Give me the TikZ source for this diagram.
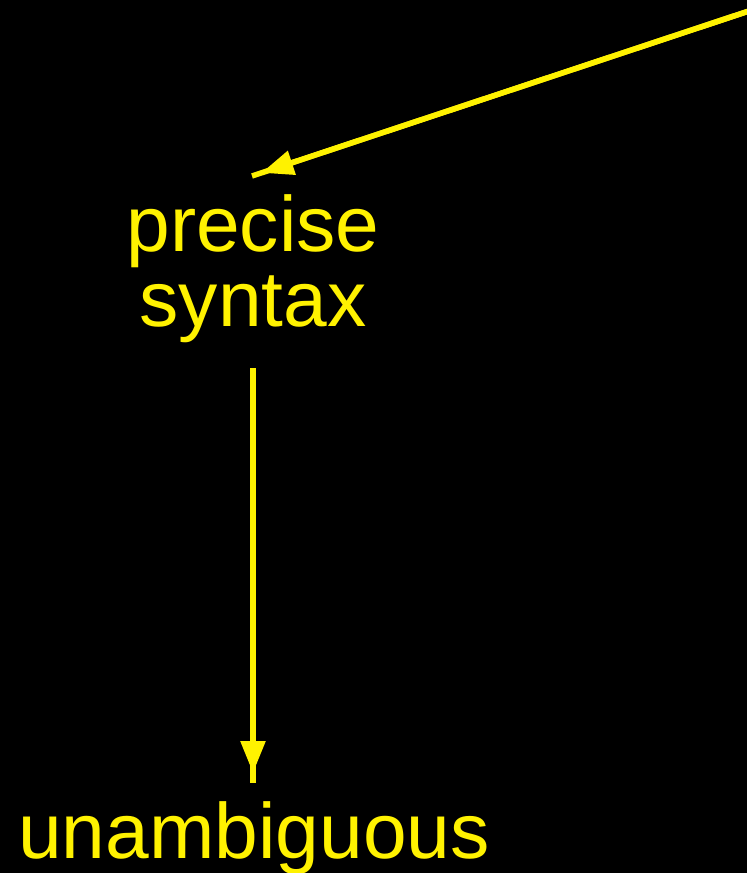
\documentclass[tikz,border=0pt]{standalone}
\usepackage{fontspec}
\setmainfont{Liberation Sans}
\usetikzlibrary{arrows.meta}
\definecolor{txtyellow}{RGB}{255,242,0}
\begin{document}
\begin{tikzpicture}[x=1pt,y=-1pt,
  lbl/.style={text=txtyellow, inner sep=0pt, align=center, font=\fontsize{78.5}{75}\selectfont},
  conn/.style={draw=txtyellow, line width=5.5pt,
    postaction={draw=txtyellow, line width=5.5pt, -{Triangle[width=24pt,length=32pt]}, shorten >=10pt}}]
\fill[black] (0,0) rectangle (747,873);
\useasboundingbox (0,0) rectangle (747,873);
\node[lbl, anchor=center] (ps) at (253,269) {precise\\syntax};
\node[lbl, anchor=base] (un) at (254,858) {unambiguous};
\coordinate (src) at (752,10);
\coordinate (pstop) at (252,176);
\coordinate (psbot) at (253,368);
\coordinate (untop) at (253,783);
\draw[conn] (src) -- (pstop);
\draw[conn] (psbot) -- (untop);
\end{tikzpicture}
\end{document}
